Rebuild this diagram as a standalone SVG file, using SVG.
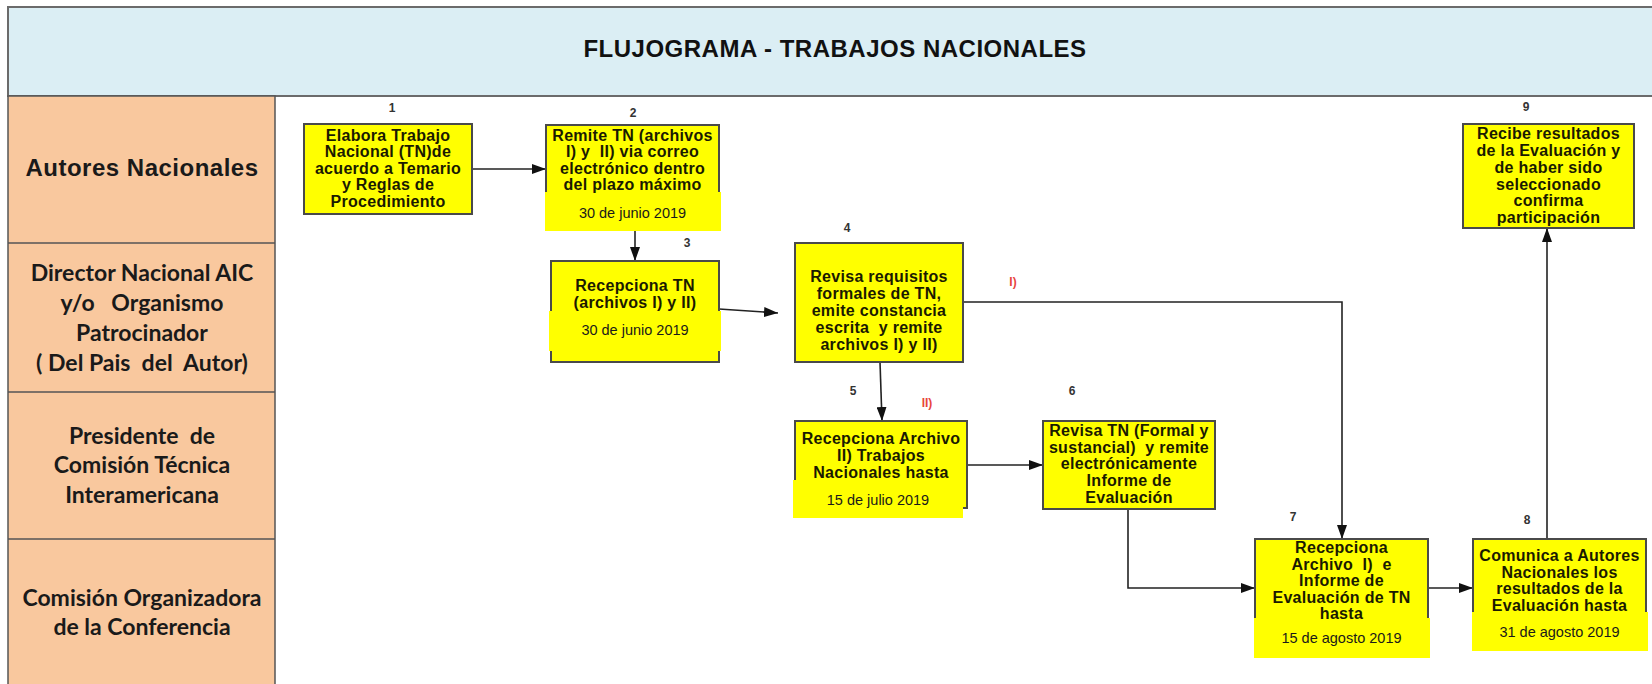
<svg xmlns="http://www.w3.org/2000/svg" width="1652" height="684" viewBox="0 0 1652 684">
<style>
.hdr{fill:#DBEEF4;stroke:#6b6b6b;stroke-width:2}
.lane{fill:#F9C89E;stroke:#555;stroke-width:1.5}
.title{font-family:"Liberation Sans",Arial,sans-serif;font-weight:bold;font-size:24px;letter-spacing:0.5px;fill:#111;text-anchor:middle}
.lt1{font-family:"Liberation Sans",Arial,sans-serif;font-weight:bold;font-size:24px;letter-spacing:0.5px;fill:#1a1a1a;text-anchor:middle}
.lt{font-family:Lato,"Open Sans",sans-serif;font-weight:bold;font-size:23px;fill:#1a1a1a;text-anchor:middle}
.box{fill:#FFFF00;stroke:#4a4a4a;stroke-width:2}
.band{fill:#FFFF00}
.t{font-family:"Liberation Sans",Arial,sans-serif;font-weight:bold;font-size:16px;letter-spacing:0.3px;fill:#1a1a00;text-anchor:middle}
.d{font-family:"Liberation Sans",Arial,sans-serif;font-size:14.5px;fill:#1a1a1a;text-anchor:middle}
.n{font-family:"Liberation Sans",Arial,sans-serif;font-weight:bold;font-size:12px;fill:#333;text-anchor:middle}
.r{font-family:"Liberation Sans",Arial,sans-serif;font-weight:bold;font-size:12px;fill:#e8453c;text-anchor:middle}
.c{fill:none;stroke:#222;stroke-width:1.6}
</style>
<defs>
<marker id="ah" viewBox="0 0 14 10" refX="14" refY="5" markerWidth="14" markerHeight="10" markerUnits="userSpaceOnUse" orient="auto">
<path d="M0,0 L14,5 L0,10 Z" fill="#111"/>
</marker>
</defs>
<rect width="1652" height="684" fill="#fff"/>
<g id="header">
<rect class="hdr" x="8" y="7" width="1660" height="89"/>
<text class="title" x="835" y="57">FLUJOGRAMA - TRABAJOS NACIONALES</text>
</g>
<g id="lanes">
<rect class="lane" x="8" y="96" width="267" height="600"/>
<line x1="8" y1="243" x2="275" y2="243" stroke="#555" stroke-width="1.5"/>
<line x1="8" y1="392" x2="275" y2="392" stroke="#555" stroke-width="1.5"/>
<line x1="8" y1="539" x2="275" y2="539" stroke="#555" stroke-width="1.5"/>
<text class="lt1" x="142" y="176">Autores Nacionales</text>
<text class="lt" x="142" y="281">Director Nacional AIC</text>
<text class="lt" x="142" y="311" xml:space="preserve">y/o   Organismo</text>
<text class="lt" x="142" y="341">Patrocinador</text>
<text class="lt" x="142" y="371" xml:space="preserve">( Del Pais  del  Autor)</text>
<text class="lt" x="142" y="444" xml:space="preserve">Presidente  de</text>
<text class="lt" x="142" y="473">Comisión Técnica</text>
<text class="lt" x="142" y="503">Interamericana</text>
<text class="lt" x="142" y="606">Comisión Organizadora</text>
<text class="lt" x="142" y="635">de la Conferencia</text>
</g>
<g id="connectors">
<line class="c" x1="472" y1="169" x2="546" y2="169" marker-end="url(#ah)"/>
<line class="c" x1="635" y1="231" x2="635" y2="261" marker-end="url(#ah)"/>
<line class="c" x1="719" y1="309" x2="778" y2="313" marker-end="url(#ah)"/>
<line class="c" x1="880" y1="362" x2="882" y2="421" marker-end="url(#ah)"/>
<polyline class="c" points="963,302 1342,302 1342,539" marker-end="url(#ah)"/>
<line class="c" x1="967" y1="465" x2="1043" y2="465" marker-end="url(#ah)"/>
<polyline class="c" points="1128,509 1128,588 1255,588" marker-end="url(#ah)"/>
<line class="c" x1="1428" y1="588" x2="1473" y2="588" marker-end="url(#ah)"/>
<line class="c" x1="1547" y1="539" x2="1547" y2="228" marker-end="url(#ah)"/>
</g>
<g id="node1">
<rect class="box" x="304" y="124" width="168" height="90"/>
<text class="n" x="392" y="112">1</text>
<text class="t" x="388" y="140.5">Elabora Trabajo</text>
<text class="t" x="388" y="157">Nacional (TN)de</text>
<text class="t" x="388" y="173.5">acuerdo a Temario</text>
<text class="t" x="388" y="190">y Reglas de</text>
<text class="t" x="388" y="206.5">Procedimiento</text>
</g>
<g id="node2">
<rect class="box" x="546" y="125" width="173" height="85"/>
<rect class="band" x="545" y="192" width="176" height="39"/>
<text class="n" x="633" y="117">2</text>
<text class="t" x="632.5" y="140.5">Remite TN (archivos</text>
<text class="t" x="632.5" y="157" xml:space="preserve">I) y  II) via correo</text>
<text class="t" x="632.5" y="173.5">electrónico dentro</text>
<text class="t" x="632.5" y="190">del plazo máximo</text>
<text class="d" x="632.5" y="218">30 de junio 2019</text>
</g>
<g id="node3">
<rect class="box" x="551" y="261" width="168" height="101"/>
<rect class="band" x="549" y="311" width="172" height="40"/>
<text class="n" x="687" y="247">3</text>
<text class="t" x="635" y="290.5">Recepciona TN</text>
<text class="t" x="635" y="307.5">(archivos I) y II)</text>
<text class="d" x="635" y="335">30 de junio 2019</text>
</g>
<g id="node4">
<rect class="box" x="795" y="243" width="168" height="119"/>
<text class="n" x="847" y="232">4</text>
<text class="r" x="1013" y="286">I)</text>
<text class="t" x="879" y="281.5">Revisa requisitos</text>
<text class="t" x="879" y="298.5">formales de TN,</text>
<text class="t" x="879" y="315.5">emite constancia</text>
<text class="t" x="879" y="332.5" xml:space="preserve">escrita  y remite</text>
<text class="t" x="879" y="349.5">archivos I) y II)</text>
</g>
<g id="node5">
<rect class="box" x="795" y="421" width="172" height="87"/>
<rect class="band" x="793" y="480" width="170" height="38"/>
<text class="n" x="853" y="395">5</text>
<text class="r" x="927" y="407">II)</text>
<text class="t" x="881" y="443.5">Recepciona Archivo</text>
<text class="t" x="881" y="460.5">II) Trabajos</text>
<text class="t" x="881" y="477.5">Nacionales hasta</text>
<text class="d" x="878" y="505">15 de julio 2019</text>
</g>
<g id="node6">
<rect class="box" x="1043" y="421" width="172" height="88"/>
<text class="n" x="1072" y="395">6</text>
<text class="t" x="1129" y="435.5">Revisa TN (Formal y</text>
<text class="t" x="1129" y="452.5" xml:space="preserve">sustancial)  y remite</text>
<text class="t" x="1129" y="469">electrónicamente</text>
<text class="t" x="1129" y="485.5">Informe de</text>
<text class="t" x="1129" y="502.5">Evaluación</text>
</g>
<g id="node7">
<rect class="box" x="1255" y="539" width="173" height="100"/>
<rect class="band" x="1254" y="618" width="176" height="40"/>
<text class="n" x="1293" y="521">7</text>
<text class="t" x="1341.5" y="552.5">Recepciona</text>
<text class="t" x="1341.5" y="569.5" xml:space="preserve">Archivo  I)  e</text>
<text class="t" x="1341.5" y="586">Informe de</text>
<text class="t" x="1341.5" y="602.5">Evaluación de TN</text>
<text class="t" x="1341.5" y="619">hasta</text>
<text class="d" x="1341.5" y="643">15 de agosto 2019</text>
</g>
<g id="node8">
<rect class="box" x="1473" y="539" width="173" height="90"/>
<rect class="band" x="1472" y="612" width="176" height="39"/>
<text class="n" x="1527" y="524">8</text>
<text class="t" x="1559.5" y="560.5">Comunica a Autores</text>
<text class="t" x="1559.5" y="577.5">Nacionales los</text>
<text class="t" x="1559.5" y="594">resultados de la</text>
<text class="t" x="1559.5" y="610.5">Evaluación hasta</text>
<text class="d" x="1559.5" y="637">31 de agosto 2019</text>
</g>
<g id="node9">
<rect class="box" x="1463" y="124" width="171" height="104"/>
<text class="n" x="1526" y="111">9</text>
<text class="t" x="1548.5" y="138.5">Recibe resultados</text>
<text class="t" x="1548.5" y="155.5">de la Evaluación y</text>
<text class="t" x="1548.5" y="172.5">de haber sido</text>
<text class="t" x="1548.5" y="189.5">seleccionado</text>
<text class="t" x="1548.5" y="205.5">confirma</text>
<text class="t" x="1548.5" y="222.5">participación</text>
</g>
</svg>
